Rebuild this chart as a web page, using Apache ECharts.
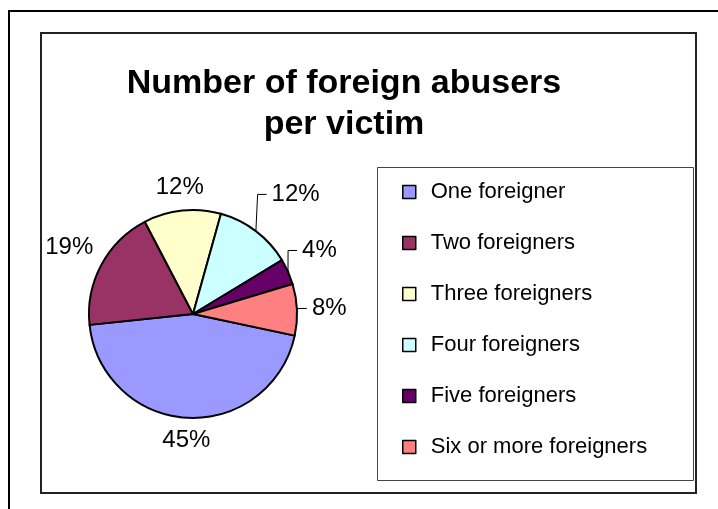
<!DOCTYPE html>
<html>
<head>
<meta charset="utf-8">
<title>Number of foreign abusers per victim</title>
<script src="https://cdn.jsdelivr.net/npm/echarts@6/dist/echarts.min.js"></script>
<style>
  html, body { margin: 0; padding: 0; background: #fff; }
  #chart { width: 718px; height: 509px; }
</style>
</head>
<body>
<div id="chart"></div>
<script>
// legend order = slice order (clockwise)
var categories = ['One foreigner', 'Two foreigners', 'Three foreigners', 'Four foreigners', 'Five foreigners', 'Six or more foreigners'];
// share of victims (%)
var shares = [45, 19, 12, 12, 4, 8];

var sliceColors = ['#9999FF', '#993366', '#FFFFCC', '#CCFFFF', '#660066', '#FF8080'];
var font = 'Liberation Sans, Arial, sans-serif';

// pie geometry
var cx = 193, cy = 314, R = 104, startAng = -12;
var total = shares.reduce(function (a, b) { return a + b; }, 0);

// labels that were dragged away in the original (get a leader line)
var moved = { 3: [24, -16], 4: [4, -9], 5: [4, 0] };

function midAngle(i) {
	var before = 0;
	for (var k = 0; k < i; k++) before += shares[k];
	var a = startAng - 360 * (before + shares[i] / 2) / total;
	return a * Math.PI / 180;
}

var myChart = echarts.init(document.getElementById('chart'));

var pieData = [];
for (var i = 0; i < categories.length; i++) {
	pieData.push({
		name: categories[i],
		value: shares[i],
		labelLine: { show: !!moved[i] }
	});
}

var option = {
	animation: false,
	color: sliceColors,
	title: {
		text: 'Number of foreign abusers\nper victim',
		left: 344,
		top: 63,
		padding: 0,
		textAlign: 'center',
		textStyle: {
			fontFamily: font,
			fontSize: 34,
			fontWeight: 'bold',
			color: '#000',
			lineHeight: 41
		}
	},
	legend: {
		orient: 'vertical',
		left: 402,
		top: 181,
		padding: 0,
		itemWidth: 13,
		itemHeight: 13,
		itemGap: 29,
		icon: 'rect',
		selectedMode: false,
		itemStyle: { borderColor: '#000', borderWidth: 1.5 },
		textStyle: {
			fontFamily: font,
			fontSize: 22,
			lineHeight: 22,
			color: '#000',
			padding: [0, 0, 0, 10]
		},
		data: categories
	},
	graphic: [
		// outer frame
		{ type: 'rect', silent: true, z: -1, shape: { x: 9, y: 11, width: 720, height: 510 },
		  style: { fill: null, stroke: '#000', lineWidth: 2 } },
		// chart area
		{ type: 'rect', silent: true, z: -1, shape: { x: 41, y: 33, width: 655, height: 460 },
		  style: { fill: null, stroke: '#222', lineWidth: 2 } },
		// legend box
		{ type: 'rect', silent: true, z: -1, shape: { x: 377.5, y: 167.5, width: 316, height: 313 },
		  style: { fill: null, stroke: '#444', lineWidth: 1 } }
	],
	series: [{
		type: 'pie',
		center: [cx, cy],
		radius: R,
		startAngle: startAng,
		clockwise: true,
		avoidLabelOverlap: false,
		percentPrecision: 0,
		itemStyle: { borderColor: '#000', borderWidth: 2 },
		emphasis: { disabled: true },
		label: {
			show: true,
			position: 'outside',
			formatter: '{d}%',
			fontFamily: font,
			fontSize: 24,
			color: '#000'
		},
		labelLine: {
			length: 10,
			length2: 5,
			lineStyle: { color: '#000', width: 1 }
		},
		labelLayout: function (params) {
			var i = params.dataIndex;
			var a = midAngle(i);
			var dx = Math.cos(a), dy = -Math.sin(a);
			var w = params.labelRect.width / 2, h = params.labelRect.height / 2;
			var ex = Math.abs(dx) > 0.01 ? w / Math.abs(dx) : 1e9;
			var ey = Math.abs(dy) > 0.01 ? h / Math.abs(dy) : 1e9;
			var d = R + 11 + Math.min(ex, ey);
			var x = cx + dx * d, y = cy + dy * d;
			if (moved[i]) {
				x += moved[i][0];
				y += moved[i][1];
				var left = x - w;
				return {
					x: left, y: y, align: 'left', verticalAlign: 'middle',
					labelLinePoints: [[cx + dx * R, cy + dy * R], [left - 14, y], [left - 5, y]]
				};
			}
			return { x: x, y: y, align: 'center', verticalAlign: 'middle' };
		},
		data: pieData
	}]
};

myChart.setOption(option);
</script>
</body>
</html>
